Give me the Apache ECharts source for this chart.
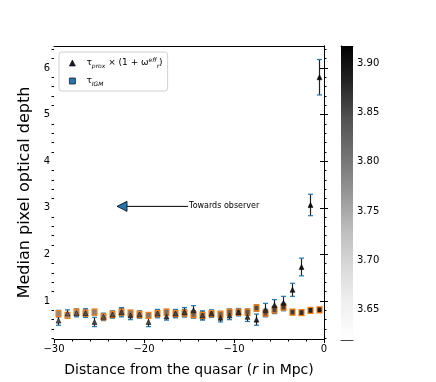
<!DOCTYPE html>
<html>
<head>
<meta charset="utf-8">
<script src="https://cdn.jsdelivr.net/npm/echarts@6/dist/echarts.min.js"></script>
<style>
  html, body { margin: 0; padding: 0; background: #fff; }
  #chart { width: 436px; height: 382px; }
</style>
</head>
<body>
<div id="chart"></div>
<script>
// bin centres (Mpc)
const distances = [-29.5, -28.5, -27.5, -26.5, -25.5, -24.5, -23.5, -22.5, -21.5, -20.5,
  -19.5, -18.5, -17.5, -16.5, -15.5, -14.5, -13.5, -12.5, -11.5, -10.5,
  -9.5, -8.5, -7.5, -6.5, -5.5, -4.5, -3.5, -2.5, -1.5, -0.5];
const tauIgm = [0.73, 0.69, 0.76, 0.74, 0.76, 0.66, 0.71, 0.76, 0.74, 0.71,
  0.69, 0.73, 0.76, 0.73, 0.74, 0.71, 0.69, 0.73, 0.71, 0.76,
  0.76, 0.76, 0.85, 0.74, 0.81, 0.87, 0.76, 0.75, 0.80, 0.81];
const tauIgmErr = [0.07, 0.06, 0.07, 0.09, 0.06, 0.07, 0.06, 0.08, 0.06, 0.06,
  0.06, 0.08, 0.06, 0.08, 0.08, 0.08, 0.08, 0.07, 0.07, 0.07,
  0.07, 0.07, 0.07, 0.08, 0.08, 0.08, 0.05, 0.05, 0.05, 0.05];
const tauProx = [0.58, 0.73, 0.74, 0.74, 0.55, 0.66, 0.71, 0.76, 0.69, 0.71,
  0.55, 0.73, 0.67, 0.73, 0.76, 0.80, 0.69, 0.73, 0.64, 0.69,
  0.76, 0.66, 0.60, 0.81, 0.91, 0.96, 1.24, 1.73, 3.06, 5.80];
const tauProxErr = [0.10, 0.08, 0.08, 0.09, 0.10, 0.08, 0.08, 0.10, 0.09, 0.08,
  0.10, 0.09, 0.08, 0.09, 0.10, 0.10, 0.10, 0.08, 0.09, 0.09,
  0.08, 0.10, 0.12, 0.14, 0.12, 0.14, 0.14, 0.19, 0.23, 0.38];
// colour values (colourbar scale)
const proxColour = [3.84, 3.82, 3.83, 3.84, 3.85, 3.83, 3.84, 3.85, 3.86, 3.84,
  3.85, 3.84, 3.86, 3.85, 3.86, 3.87, 3.85, 3.86, 3.87, 3.86,
  3.87, 3.86, 3.88, 3.87, 3.88, 3.89, 3.89, 3.90, 3.91, 3.91];
const igmColour = [3.78, 3.76, 3.77, 3.78, 3.79, 3.77, 3.78, 3.79, 3.80, 3.79,
  3.80, 3.80, 3.81, 3.80, 3.81, 3.82, 3.81, 3.82, 3.82, 3.83,
  3.84, 3.84, 3.85, 3.84, 3.85, 3.86, 3.86, 3.87, 3.88, 3.89];
const yMajor = [1, 2, 3, 4, 5, 6];
const yMinor = [0.2, 0.4, 0.6, 0.8, 1.2, 1.4, 1.6, 1.8, 2.2, 2.4, 2.6, 2.8, 3.2, 3.4, 3.6, 3.8,
  4.2, 4.4, 4.6, 4.8, 5.2, 5.4, 5.6, 5.8, 6.2, 6.4];
const cbarTicks = [3.65, 3.70, 3.75, 3.80, 3.85, 3.90];
const cbarRange = [3.6185, 3.918];
const arrow = [[-15.1, -23.0, 3.03]];

const FONT = 'DejaVu Sans';
const greys = ['#ffffff', '#f0f0f0', '#d9d9d9', '#bdbdbd', '#969696', '#737373', '#525252', '#252525', '#000000'];

const igmErrData = distances.map((x, i) => [x, tauIgm[i] - tauIgmErr[i], tauIgm[i] + tauIgmErr[i]]);
const proxErrData = distances.map((x, i) => [x, tauProx[i] - tauProxErr[i], tauProx[i] + tauProxErr[i]]);
const igmData = distances.map((x, i) => [x, tauIgm[i], igmColour[i]]);
const proxData = distances.map((x, i) => [x, tauProx[i], proxColour[i]]);

function errorBars(lineColor, capColor) {
  return function (params, api) {
    const x = api.value(0);
    const lo = api.coord([x, api.value(1)]);
    const hi = api.coord([x, api.value(2)]);
    const w = 2.5;
    return {
      type: 'group',
      children: [
        { type: 'line', shape: { x1: lo[0], y1: lo[1], x2: hi[0], y2: hi[1] }, style: { stroke: lineColor, lineWidth: 1.2 } },
        { type: 'line', shape: { x1: lo[0] - w, y1: lo[1], x2: lo[0] + w, y2: lo[1] }, style: { stroke: capColor, lineWidth: 1.2 } },
        { type: 'line', shape: { x1: hi[0] - w, y1: hi[1], x2: hi[0] + w, y2: hi[1] }, style: { stroke: capColor, lineWidth: 1.2 } }
      ]
    };
  };
}

const chart = echarts.init(document.getElementById('chart'));

const option = {
  animation: false,
  backgroundColor: '#fff',
  textStyle: { fontFamily: FONT },
  grid: [
    { left: 54, top: 46, width: 270, height: 293 },
    { left: 341, top: 46, width: 12, height: 294 }
  ],
  xAxis: [
    {
      gridIndex: 0, type: 'value', min: -30, max: 0, interval: 10, position: 'bottom',
      name: 'Distance from the quasar ({i|r} in Mpc)', nameLocation: 'middle', nameGap: 24,
      nameTextStyle: { fontSize: 14, color: '#000', fontFamily: FONT, rich: { i: { fontStyle: 'italic', fontSize: 14, fontFamily: FONT } } },
      axisLine: { lineStyle: { color: '#000', width: 1 } },
      axisTick: { length: 4, lineStyle: { color: '#000' } },
      minorTick: { show: true, splitNumber: 5, length: 2.5, lineStyle: { color: '#000' } },
      axisLabel: { color: '#000', fontSize: 10, margin: 5, formatter: v => String(v).replace('-', '\u2212') },
      splitLine: { show: false }
    },
    {
      gridIndex: 0, type: 'value', min: -30, max: 0, position: 'top',
      axisLine: { lineStyle: { color: '#000', width: 1 } },
      axisTick: { show: false }, axisLabel: { show: false }, splitLine: { show: false }
    },
    {
      gridIndex: 1, type: 'value', min: 0, max: 1, position: 'bottom',
      axisLine: { lineStyle: { color: '#444' } },
      axisTick: { show: false }, axisLabel: { show: false }, splitLine: { show: false }
    },
    {
      gridIndex: 1, type: 'value', min: 0, max: 1, position: 'top',
      axisLine: { lineStyle: { color: '#444' } },
      axisTick: { show: false }, axisLabel: { show: false }, splitLine: { show: false }
    }
  ],
  yAxis: [
    {
      gridIndex: 0, type: 'value', min: 0.185, max: 6.47, position: 'left',
      name: 'Median pixel optical depth', nameLocation: 'middle', nameGap: 12,
      nameTextStyle: { fontSize: 16, color: '#000', fontFamily: FONT },
      axisLine: { show: true, lineStyle: { color: '#000', width: 1 } },
      axisTick: { show: true, length: 4, customValues: yMajor, lineStyle: { color: '#000' } },
      axisLabel: { color: '#000', fontSize: 10, margin: 4, customValues: yMajor },
      splitLine: { show: false }
    },
    {
      gridIndex: 0, type: 'value', min: 0.185, max: 6.47, position: 'right',
      axisLine: { show: true, lineStyle: { color: '#000', width: 1 } },
      axisTick: { show: true, length: 4, customValues: yMajor, lineStyle: { color: '#000' } },
      axisLabel: { show: false }, splitLine: { show: false }
    },
    {
      gridIndex: 0, type: 'value', min: 0.185, max: 6.47, position: 'left',
      axisLine: { show: false },
      axisTick: { show: true, length: 2.5, customValues: yMinor, lineStyle: { color: '#000' } },
      axisLabel: { show: false }, splitLine: { show: false }
    },
    {
      gridIndex: 0, type: 'value', min: 0.185, max: 6.47, position: 'right',
      axisLine: { show: false },
      axisTick: { show: true, length: 2.5, customValues: yMinor, lineStyle: { color: '#000' } },
      axisLabel: { show: false }, splitLine: { show: false }
    },
    {
      gridIndex: 1, type: 'value', min: cbarRange[0], max: cbarRange[1], position: 'right',
      axisLine: { show: true, lineStyle: { color: '#444' } },
      axisTick: { show: true, length: 3.5, customValues: cbarTicks, lineStyle: { color: '#000' } },
      axisLabel: { color: '#000', fontSize: 10, margin: 4, customValues: cbarTicks, formatter: v => v.toFixed(2) },
      splitLine: { show: false }
    },
    {
      gridIndex: 1, type: 'value', min: cbarRange[0], max: cbarRange[1], position: 'left',
      axisLine: { show: true, lineStyle: { color: '#444' } },
      axisTick: { show: false }, axisLabel: { show: false }, splitLine: { show: false }
    }
  ],
  visualMap: {
    type: 'continuous', show: false, min: cbarRange[0], max: cbarRange[1], dimension: 2, seriesIndex: [2, 3],
    inRange: { color: greys }
  },
  legend: {
    left: 59, top: 52, orient: 'vertical',
    backgroundColor: '#fff', borderColor: '#d0d0d0', borderWidth: 1, borderRadius: 3,
    padding: [5, 5, 4, 10], itemWidth: 6, itemHeight: 6, itemGap: 6,
    data: [
      { name: 'prox', icon: 'triangle', itemStyle: { color: '#1a1a2e', borderColor: '#000', borderWidth: 0.6 } },
      { name: 'igm', icon: 'rect', itemStyle: { color: '#1f77b4', borderColor: '#222', borderWidth: 0.8 } }
    ],
    formatter: function (name) {
      if (name === 'prox') return '{g|}{t|\u03c4}{sub|prox}{t| \u00d7 (1 + \u03c9}{sup|eff}{sub|r}{t|)}';
      return '{g|}{t|\u03c4}{sub|IGM}';
    },
    textStyle: {
      fontFamily: FONT, color: '#000',
      rich: {
        g: { width: 6 },
        t: { fontSize: 9, lineHeight: 12, fontFamily: FONT, color: '#000' },
        sub: { fontSize: 6, fontStyle: 'italic', verticalAlign: 'bottom', lineHeight: 12, fontFamily: FONT, color: '#000' },
        sup: { fontSize: 6, fontStyle: 'italic', verticalAlign: 'top', lineHeight: 12, fontFamily: FONT, color: '#000' }
      }
    }
  },
  series: [
    {
      type: 'custom', name: 'igmErr', xAxisIndex: 0, yAxisIndex: 0, data: igmErrData,
      renderItem: errorBars('#7fa7cf', '#1f77b4'), z: 2
    },
    {
      type: 'custom', name: 'proxErr', xAxisIndex: 0, yAxisIndex: 0, data: proxErrData,
      renderItem: errorBars('#222', '#1f77b4'), z: 3
    },
    {
      type: 'scatter', name: 'igm', xAxisIndex: 0, yAxisIndex: 0, data: igmData,
      symbol: 'rect', symbolSize: [5, 6],
      itemStyle: { borderColor: '#ff7f0e', borderWidth: 1.2, opacity: 1 }, z: 4
    },
    {
      type: 'scatter', name: 'prox', xAxisIndex: 0, yAxisIndex: 0, data: proxData,
      symbol: 'triangle', symbolSize: 5,
      itemStyle: { borderColor: '#000', borderWidth: 0.5, opacity: 1 }, z: 5
    },
    {
      type: 'custom', name: 'arrow', xAxisIndex: 0, yAxisIndex: 0, data: arrow, z: 6,
      renderItem: function (params, api) {
        const y = api.value(2);
        const tail = api.coord([api.value(0), y]);
        const head = api.coord([api.value(1), y]);
        const hl = 10, hw = 5;
        return {
          type: 'group',
          children: [
            { type: 'line', shape: { x1: tail[0], y1: tail[1], x2: head[0] + hl, y2: head[1] }, style: { stroke: '#000', lineWidth: 1 } },
            { type: 'polygon', shape: { points: [[head[0], head[1]], [head[0] + hl, head[1] - hw], [head[0] + hl, head[1] + hw]] },
              style: { fill: '#1f77b4', stroke: '#000', lineWidth: 0.8 } },
            { type: 'text', x: tail[0] + 1, y: tail[1],
              style: { text: 'Towards observer', fontSize: 8, fontFamily: FONT, fill: '#000', verticalAlign: 'middle', align: 'left' } }
          ]
        };
      }
    },
    {
      // colour bar body
      type: 'custom', name: 'cbar', xAxisIndex: 2, yAxisIndex: 4, data: [[0, 1, cbarRange[0], cbarRange[1]]], z: 1,
      renderItem: function (params, api) {
        const p0 = api.coord([api.value(0), api.value(3)]);
        const p1 = api.coord([api.value(1), api.value(2)]);
        const stops = greys.map((c, i) => ({ offset: 1 - i / (greys.length - 1), color: c }));
        return {
          type: 'rect',
          shape: { x: p0[0], y: p0[1], width: p1[0] - p0[0], height: p1[1] - p0[1] },
          style: { fill: new echarts.graphic.LinearGradient(0, 0, 0, 1, stops) }
        };
      }
    }
  ]
};

chart.setOption(option);
</script>
</body>
</html>
